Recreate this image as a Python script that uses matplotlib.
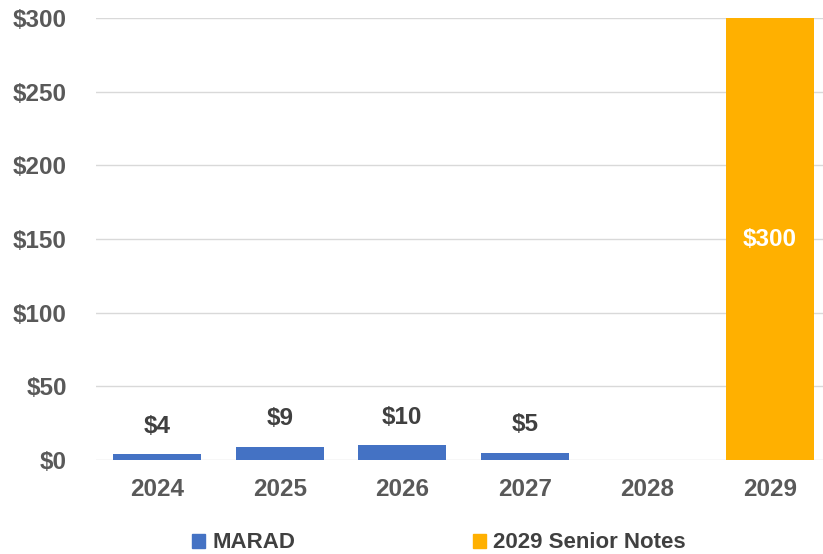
import matplotlib.pyplot as plt
from matplotlib.patches import Patch
import numpy as np

plt.rcParams['font.family'] = ['Liberation Sans', 'DejaVu Sans']

years = ['2024', '2025', '2026', '2027', '2028', '2029']
marad = [4, 9, 10, 5, 0, 0]
senior_notes = [0, 0, 0, 0, 0, 300]
y_ticks = [0, 50, 100, 150, 200, 250, 300]

BLUE = '#4472c4'
ORANGE = '#ffb000'
TXT = '#404040'
TICK = '#595959'

fig = plt.figure(figsize=(8.23, 5.54), dpi=100)
# axes runs a little past the right edge of the figure, as in the source
ax = fig.add_axes([96 / 823, 94 / 554, 735 / 823, 442 / 554])

x = np.arange(len(years))
w = 0.72
ax.bar(x, marad, width=w, color=BLUE, zorder=3)
ax.bar(x, senior_notes, width=w, color=ORANGE, zorder=3)

for xi, v in zip(x, marad):
    if v > 0:
        ax.annotate(f'${v}', (xi, v), xytext=(0, 20), textcoords='offset points',
                    ha='center', va='center', fontsize=17.5, fontweight='bold', color=TXT)
for xi, v in zip(x, senior_notes):
    if v > 0:
        ax.text(xi, v / 2, f'${v}', ha='center', va='center', fontsize=17.5,
                fontweight='bold', color='white', zorder=4)

ax.set_xlim(-0.5, len(years) - 0.5)
ax.set_ylim(0, 300)
ax.set_yticks(y_ticks)
ax.set_yticklabels([f'${t}' for t in y_ticks])
ax.set_xticks(x)
ax.set_xticklabels(years)
ax.tick_params(axis='both', length=0, labelsize=17.5, labelcolor=TICK)
ax.tick_params(axis='y', pad=21)
ax.tick_params(axis='x', pad=13)
for lab in ax.get_xticklabels() + ax.get_yticklabels():
    lab.set_fontweight('bold')

ax.grid(axis='y', color='#d9d9d9', linewidth=1, zorder=0)
for s in ax.spines.values():
    s.set_visible(False)

handles = [Patch(color=BLUE, label='MARAD'), Patch(color=ORANGE, label='2029 Senior Notes')]
leg = fig.legend(handles=handles, loc='lower center', bbox_to_anchor=(0.533, -0.035), ncol=2,
                 frameon=False, fontsize=16, handlelength=0.6, handleheight=0.6,
                 handletextpad=0.3, columnspacing=8)
for t in leg.get_texts():
    t.set_color(TXT)
    t.set_fontweight('bold')

fig.savefig('out.png', dpi=100)
